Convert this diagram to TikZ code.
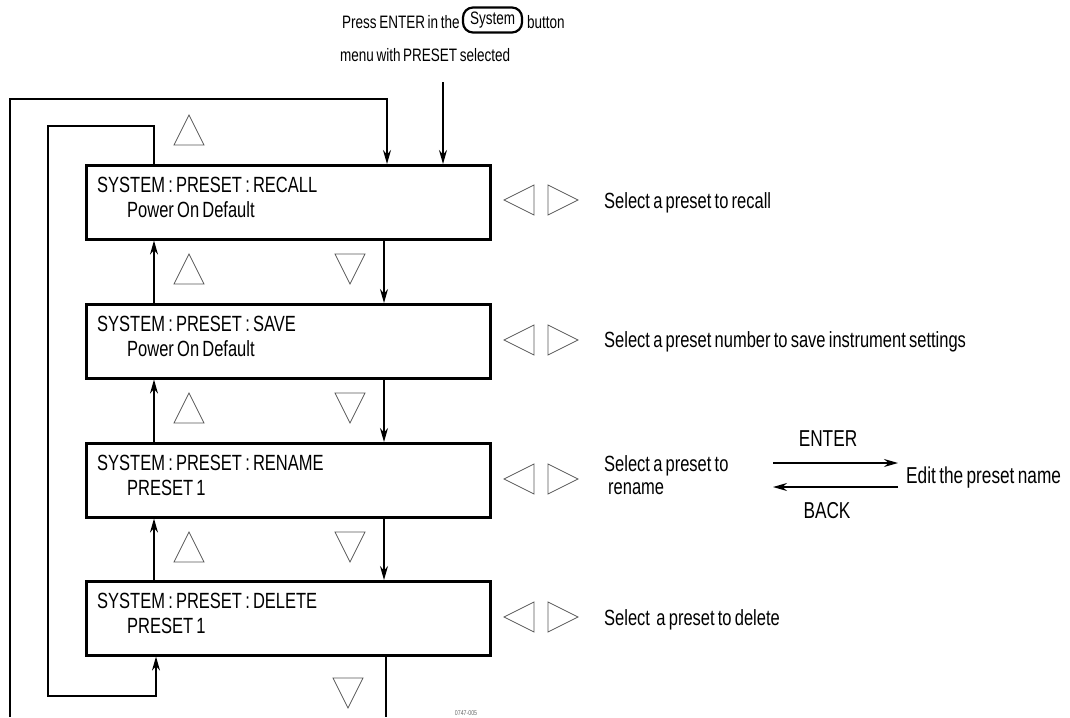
\documentclass[tikz,border=0pt]{standalone}
\usepackage{fontspec}
\setmainfont[FakeStretch=0.75,WordSpace=0.7]{Liberation Sans}
\usetikzlibrary{arrows.meta,calc}
\begin{document}
\begin{tikzpicture}[x=1pt,y=-1pt,
  menubox/.style={draw, line width=2.6pt, minimum width=404pt, minimum height=74pt, anchor=north west, inner sep=0pt},
  txt/.style={anchor=base west, inner sep=0pt, font=\fontsize{22}{24}\selectfont},
  bigtxt/.style={anchor=base west, inner sep=0pt, font=\fontsize{23}{25}\selectfont},
  toptxt/.style={anchor=base west, inner sep=0pt, font=\fontsize{18}{20}\selectfont},
  ctxt/.style={anchor=base, inner sep=0pt, font=\fontsize{23}{25}\selectfont},
  conn/.style={line width=1.4pt},
  arr/.style={conn, -{Stealth[length=14pt,width=8pt]}},
  tri/.style={draw=black!65, line width=0.8pt, line join=miter}
]
\useasboundingbox (0,0) rectangle (1070,717);

% header
\node[toptxt] (press) at (342,28.5) {Press ENTER in the};
\node[draw, line width=2.2pt, rounded corners=10pt, minimum width=59pt, minimum height=25pt, inner sep=1pt, font=\fontsize{18}{20}\selectfont] (sysbtn) at (492.5,20) {System};
\node[toptxt] (button) at (527,28.5) {button};
\node[toptxt] (menu) at (340,61.5) {menu with PRESET selected};

% menu boxes
\node[menubox] (b1) at (85,164) {};
\node[menubox] (b2) at (85,303) {};
\node[menubox] (b3) at (85,442) {};
\node[menubox] (b4) at (85,580) {};

\foreach \b/\la/\lb in {b1/SYSTEM : PRESET : RECALL/Power On Default,
                        b2/SYSTEM : PRESET : SAVE/Power On Default,
                        b3/SYSTEM : PRESET : RENAME/PRESET 1,
                        b4/SYSTEM : PRESET : DELETE/PRESET 1}{
  \node[txt] (\b-l1) at ([xshift=12pt,yshift=-28pt]\b.north west) {\la};
  \node[txt] (\b-l2) at ([xshift=42pt,yshift=-53pt]\b.north west) {\lb};
}

% vertical connectors between boxes
\foreach \u/\d in {b1/b2, b2/b3, b3/b4}{
  \draw[arr] ([xshift=299pt]\u.south west) -- ([xshift=299pt]\d.north west);
  \draw[arr] ([xshift=69pt]\d.north west) -- ([xshift=69pt]\u.south west);
}

% entry arrow
\coordinate (entry) at (443,82);
\draw[arr] (entry) -- ([xshift=358pt]b1.north west);

% inner loop
\draw[arr] ([xshift=69pt]b1.north west) -- ++(0,-38) -| (48,696) -| ([xshift=71pt]b4.south west);

% outer loop
\coordinate (outA) at (10,717);
\draw[arr] (outA) -- (10,99) -| ([xshift=302pt]b1.north west);
\coordinate (outB) at (386,717);
\draw[conn] ([xshift=301pt]b4.south west) -- (outB);

% up / down triangles
\draw[tri] (174,145) -- (189,115) -- (204,145) -- cycle;
\foreach \y in {254,393,532}{
  \draw[tri] (174,\y+30) -- (189,\y) -- (204,\y+30) -- cycle;
  \draw[tri] (335,\y) -- (365,\y) -- (350,\y+30) -- cycle;
}
\draw[tri] (333,678) -- (363,678) -- (348,708) -- cycle;

% left / right triangles
\foreach \c in {200,340,479,617}{
  \draw[tri] (534,\c-15) -- (504,\c) -- (534,\c+15) -- cycle;
  \draw[tri] (548,\c-15) -- (578,\c) -- (548,\c+15) -- cycle;
}

% descriptions
\node[txt] (d1) at (604,208) {Select a preset to recall};
\node[txt] (d2) at (604,347) {Select a preset number to save instrument settings};
\node[txt] (d3a) at (604,471) {Select a preset to};
\node[txt] (d3b) at (608,494) {rename};
\node[txt] (d4) at (604,625) {Select\ \ a preset to delete};

% rename sub-menu
\node[bigtxt] (edit) at (906,483) {Edit the preset name};
\coordinate (enterA) at (773,463);
\coordinate (enterB) at (898,463);
\coordinate (backA) at (898,487);
\coordinate (backB) at (773,487);
\draw[arr] (enterA) -- (enterB);
\draw[arr] (backA) -- (backB);
\node[ctxt] (enter) at (828,446) {ENTER};
\node[ctxt] (back) at (827,518) {BACK};

% figure number
\node[anchor=base, inner sep=0pt, font=\fontsize{7}{8}\selectfont, text=black!60] (fignum) at (466,715) {0747-005};
\end{tikzpicture}
\end{document}
